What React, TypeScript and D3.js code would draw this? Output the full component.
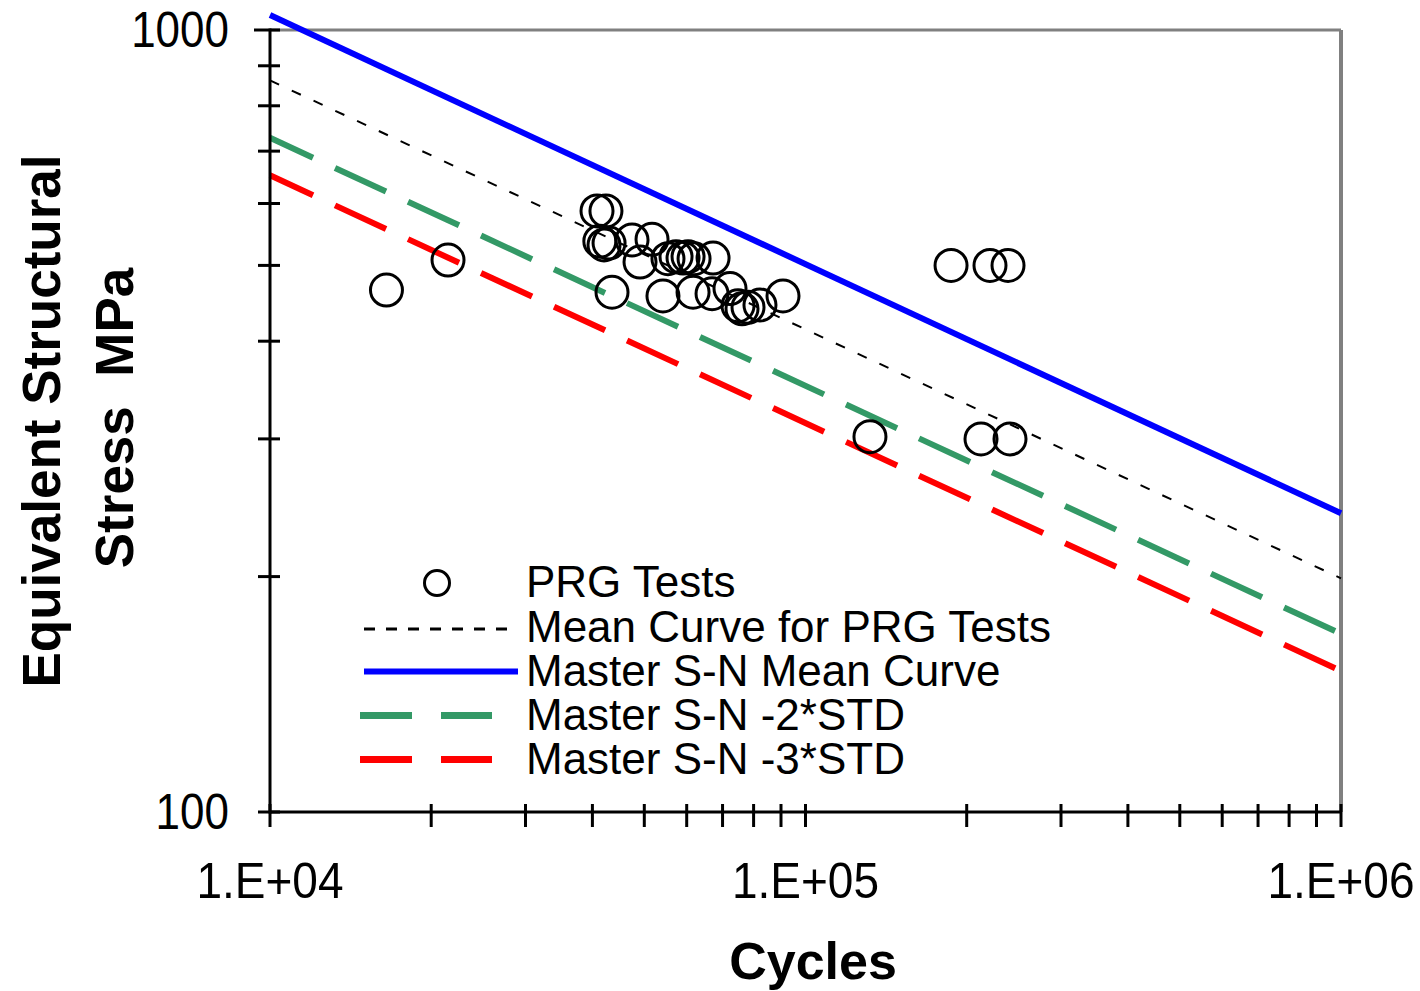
import React from "react";
import * as d3 from "d3";

// Fatigue test results (cycles to failure vs. equivalent structural stress)
const prgCycles = [
  16500, 21500, 40800, 42400, 41300, 42050, 42970, 47430, 51690, 49090, 43520,
  54180, 55360, 57310, 59060, 60350, 61930, 67200, 61660, 66910, 72280, 74810,
  76110, 78100, 82220, 90780, 131940, 186980, 221070, 238880, 212690, 240930,
];
const prgStress = [
  465, 508, 587, 587, 537, 531, 534, 539, 540, 505, 462, 457, 510, 513, 511,
  513, 510, 511, 462, 460, 467, 444, 440, 442, 445, 457, 302, 500, 500, 500,
  300, 300,
];

// Curve end points at N = 1e4 and N = 1e6
const curveCycles = [1e4, 1e6];
const prgMeanStress = [862, 199];
const masterMeanStress = [1045, 241];
const masterMinus2Stress = [728, 169];
const masterMinus3Stress = [652, 151.5];

const cycleMajorTicks = [1e4, 1e5, 1e6];
const cycleMajorLabels = ["1.E+04", "1.E+05", "1.E+06"];
const stressTicks = [100, 200, 300, 400, 500, 600, 700, 800, 900, 1000];
const stressLabelTicks = [100, 1000];

const legendLabels = [
  "PRG Tests",
  "Mean Curve for PRG Tests",
  "Master S-N Mean Curve",
  "Master S-N -2*STD",
  "Master S-N -3*STD",
];

const FONT = "'Liberation Sans', Arial, Helvetica, sans-serif";

export default function App() {
  const left = 270;
  const right = 1341;
  const top = 30;
  const bottom = 812;

  const x = d3.scaleLog().domain([1e4, 1e6]).range([left, right]);
  const y = d3.scaleLog().domain([100, 1000]).range([bottom, top]);

  const minorCycles: number[] = [];
  for (let dec = 1e4; dec < 1e6; dec *= 10) {
    for (let k = 2; k <= 9; k++) minorCycles.push(dec * k);
  }

  const line = d3
    .line<[number, number]>()
    .x((d) => x(d[0]))
    .y((d) => y(d[1]));
  const curve = (vals: number[]) =>
    line(curveCycles.map((c, i) => [c, vals[i]] as [number, number])) || "";

  const green = "#339966";
  const red = "#ff0000";
  const blue = "#0000ff";

  const legendBase = [597, 642, 686, 730, 774];
  const legendMid = [583, 629, 671.5, 715.5, 759.5];

  return (
    <svg
      width={1420}
      height={991}
      style={{ position: "absolute", left: 0, top: 0, background: "#fff" }}
      fontFamily={FONT}
    >
      <rect x={0} y={0} width={1420} height={991} fill="#fff" />

      {/* frame: grey top/right, black axes */}
      <line x1={left} y1={top} x2={right} y2={top} stroke="#808080" strokeWidth={3} />
      <line x1={right} y1={top} x2={right} y2={bottom} stroke="#808080" strokeWidth={4} />

      {/* curves */}
      <path d={curve(masterMinus3Stress)} stroke={red} strokeWidth={6} fill="none" strokeDasharray="56.2 24.25" strokeDashoffset={8.8} />
      <path d={curve(masterMinus2Stress)} stroke={green} strokeWidth={6} fill="none" strokeDasharray="56.2 24.25" strokeDashoffset={8.8} />
      <path d={curve(prgMeanStress)} stroke="#000" strokeWidth={2} fill="none" strokeDasharray="10 14" />
      <path d={curve(masterMeanStress)} stroke={blue} strokeWidth={6} fill="none" />

      {/* test points */}
      {prgCycles.map((c, i) => (
        <circle key={i} cx={x(c)} cy={y(prgStress[i])} r={16} fill="none" stroke="#000" strokeWidth={3} />
      ))}

      {/* axes */}
      <line x1={left} y1={top - 1.5} x2={left} y2={bottom + 1.5} stroke="#000" strokeWidth={3} />
      <line x1={left} y1={bottom} x2={right} y2={bottom} stroke="#000" strokeWidth={3} />
      {stressTicks.map((s) => (
        <line key={s} x1={left - (s === 1000 ? 16 : 12)} x2={left + 10} y1={y(s)} y2={y(s)} stroke="#000" strokeWidth={3} />
      ))}
      {[...cycleMajorTicks, ...minorCycles].map((c) => (
        <line key={c} x1={x(c)} x2={x(c)} y1={bottom - 8} y2={bottom + 15} stroke="#000" strokeWidth={3} />
      ))}

      {/* tick labels */}
      {stressLabelTicks.map((s) => (
        <text
          key={s}
          transform={`translate(229,${y(s) + 17}) scale(1,1.12)`}
          textAnchor="end"
          fontSize={44}
          fill="#000"
        >
          {s}
        </text>
      ))}
      {cycleMajorTicks.map((c, i) => (
        <text
          key={c}
          transform={`translate(${x(c)},898) scale(1,1.1)`}
          textAnchor="middle"
          fontSize={46}
          fill="#000"
        >
          {cycleMajorLabels[i]}
        </text>
      ))}

      {/* axis titles */}
      <text x={813} y={979} textAnchor="middle" fontSize={52} fontWeight="bold" fill="#000">
        Cycles
      </text>
      <text transform="translate(60,421) rotate(-90)" textAnchor="middle" fontSize={53} fontWeight="bold" fill="#000">
        Equivalent Structural
      </text>
      <text transform="translate(133,418) rotate(-90)" textAnchor="middle" fontSize={53} fontWeight="bold" fill="#000" style={{ whiteSpace: "pre" }}>
        {"Stress  MPa"}
      </text>

      {/* legend */}
      <circle cx={437} cy={legendMid[0]} r={12.5} fill="none" stroke="#000" strokeWidth={3} />
      <line x1={364} x2={510} y1={legendMid[1]} y2={legendMid[1]} stroke="#000" strokeWidth={3} strokeDasharray="11 11" />
      <line x1={364} x2={518} y1={legendMid[2]} y2={legendMid[2]} stroke={blue} strokeWidth={6} />
      <line x1={360} x2={492} y1={legendMid[3]} y2={legendMid[3]} stroke={green} strokeWidth={7} strokeDasharray="52 29" />
      <line x1={360} x2={492} y1={legendMid[4]} y2={legendMid[4]} stroke={red} strokeWidth={7} strokeDasharray="52 29" />
      {legendLabels.map((t, i) => (
        <text key={t} x={526} y={legendBase[i]} fontSize={44} fill="#000">
          {t}
        </text>
      ))}
    </svg>
  );
}
